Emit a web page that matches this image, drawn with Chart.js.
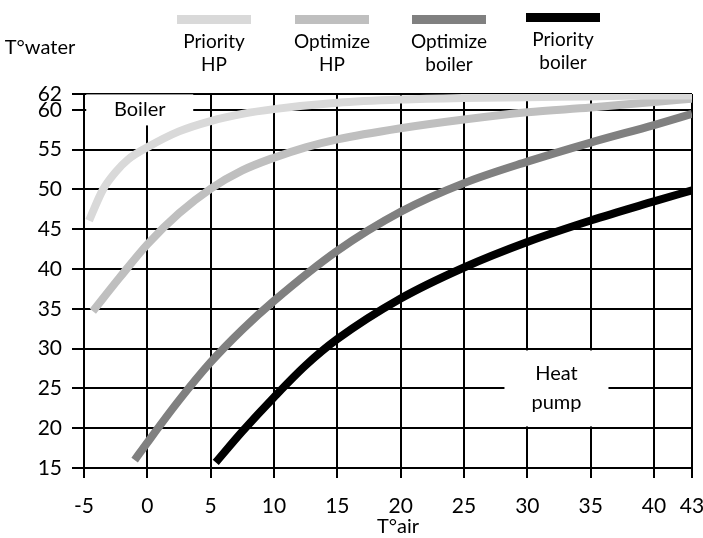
<!DOCTYPE html>
<html>
<head>
<meta charset="utf-8">
<title>T°water / T°air</title>
<script src="https://cdn.jsdelivr.net/npm/chart.js@4.4.0/dist/chart.umd.min.js"></script>
<style>
  html, body { margin: 0; padding: 0; background: #fff; }
  canvas { display: block; }
</style>
</head>
<body>
<canvas id="chart" width="703" height="538"></canvas>
<script>
// axis ticks
const xTicks = [-5, 0, 5, 10, 15, 20, 25, 30, 35, 40, 43];
const yTicks = [15, 20, 25, 30, 35, 40, 45, 50, 55, 60, 62];

// water temperature per air temperature, one pair of arrays per mode
const priorityHpX = [-4.6, -3.5, -2.5, -1.5, 0, 2.5, 5, 7.5, 10, 15, 20, 25, 30, 35, 40, 43];
const priorityHpY = [46.1, 50.0, 52.2, 53.8, 55.3, 57.3, 58.6, 59.5, 60.1, 60.9, 61.3, 61.5, 61.6, 61.7, 61.8, 61.8];

const optimizeHpX = [-4.3, -2.2, 0, 2.5, 5, 7.5, 10, 12.5, 15, 20, 25, 30, 35, 40, 43];
const optimizeHpY = [34.7, 38.9, 43.1, 47.0, 50.1, 52.4, 54.0, 55.3, 56.3, 57.7, 58.8, 59.7, 60.3, 61.0, 61.4];

const optimizeBoilerX = [-1, 0, 2.5, 5, 7.5, 10, 15, 20, 25, 30, 35, 40, 43];
const optimizeBoilerY = [16.0, 18.2, 23.5, 28.3, 32.4, 36.0, 42.3, 47.2, 50.8, 53.5, 55.9, 58.1, 59.5];

const priorityBoilerX = [5.4, 7.5, 10, 12.5, 15, 20, 25, 30, 35, 40, 43];
const priorityBoilerY = [15.7, 19.6, 23.9, 27.9, 31.2, 36.3, 40.2, 43.4, 46.1, 48.5, 49.9];

const seriesLabels = [["Priority", "HP"], ["Optimize", "HP"], ["Optimize", "boiler"], ["Priority", "boiler"]];
const seriesColors = ["#d9d9d9", "#bfbfbf", "#808080", "#000000"];

const FONT = "Lato, 'Noto Sans', sans-serif";
Chart.defaults.font.family = FONT;
Chart.defaults.color = "#000";

const toPoints = (xs, ys) => xs.map((x, i) => ({ x, y: ys[i] }));

const series = [
  toPoints(priorityHpX, priorityHpY),
  toPoints(optimizeHpX, optimizeHpY),
  toPoints(optimizeBoilerX, optimizeBoilerY),
  toPoints(priorityBoilerX, priorityBoilerY),
];

// white boxed text that cuts through the grid
function boxLabel(ctx, cx, cy, w, h, lines) {
  ctx.save();
  ctx.fillStyle = "#fff";
  ctx.fillRect(cx - w / 2, cy - h / 2, w, h);
  ctx.fillStyle = "#000";
  ctx.font = "20px " + FONT;
  ctx.textAlign = "center";
  ctx.textBaseline = "middle";
  const step = 29;
  lines.forEach((t, i) => {
    ctx.fillText(t, cx, cy + (i - (lines.length - 1) / 2) * step);
  });
  ctx.restore();
}

const decorations = {
  id: "decorations",
  beforeDatasetsDraw(chart) {
    const { ctx, scales: { x, y } } = chart;
    boxLabel(ctx, x.getPixelForValue(-0.6), y.getPixelForValue(60), 107, 31, ["Boiler"]);
    boxLabel(ctx, x.getPixelForValue(32.3), y.getPixelForValue(25), 104, 76, ["Heat", "pump"]);
  },
  afterDraw(chart) {
    const { ctx } = chart;
    const legendX = [214, 332, 449, 563];
    ctx.save();
    ctx.textAlign = "center";
    ctx.textBaseline = "middle";
    chart.data.datasets.forEach((ds, i) => {
      const cx = legendX[i];
      const lift = i === 3 ? 2 : 0;
      ctx.fillStyle = ds.borderColor;
      ctx.fillRect(cx - 37, 15 - lift, 74, 9);
      ctx.fillStyle = "#000";
      ctx.font = "19px " + FONT;
      ds.label.forEach((t, j) => ctx.fillText(t, cx, 42 - lift + j * 23));
    });
    // axis titles
    ctx.font = "20px " + FONT;
    ctx.fillText("T°water", 40, 48);
    ctx.fillText("T°air", 398, 527);
    ctx.restore();
  },
};

new Chart(document.getElementById("chart"), {
  type: "line",
  data: {
    datasets: series.map((pts, i) => ({
      label: seriesLabels[i],
      data: pts,
      borderColor: seriesColors[i],
      backgroundColor: seriesColors[i],
      borderWidth: 8,
      borderCapStyle: "butt",
      pointRadius: 0,
      cubicInterpolationMode: "monotone",
      fill: false,
    })),
  },
  options: {
    responsive: false,
    animation: false,
    layout: { padding: { top: 94, right: 11, bottom: 0, left: 0 } },
    plugins: { legend: { display: false }, tooltip: { enabled: false } },
    scales: {
      x: {
        type: "linear",
        min: -5,
        max: 43,
        afterBuildTicks: (axis) => { axis.ticks = xTicks.map((v) => ({ value: v })); },
        afterFit: (axis) => {
          axis.height = 70;
          axis.paddingLeft = 0;
          axis.paddingRight = 0;
        },
        grid: { color: "#000", lineWidth: 2, tickLength: 10 },
        border: { color: "#000", width: 2 },
        ticks: { font: { size: 21 }, padding: 16, maxRotation: 0, autoSkip: false },
      },
      y: {
        type: "linear",
        min: 15,
        max: 62,
        afterBuildTicks: (axis) => { axis.ticks = yTicks.map((v) => ({ value: v })); },
        afterFit: (axis) => { axis.width = 84; },
        grid: { color: "#000", lineWidth: 2, tickLength: 12 },
        border: { color: "#000", width: 2 },
        ticks: { font: { size: 21 }, padding: 10, autoSkip: false },
      },
    },
  },
  plugins: [decorations],
});
</script>
</body>
</html>
